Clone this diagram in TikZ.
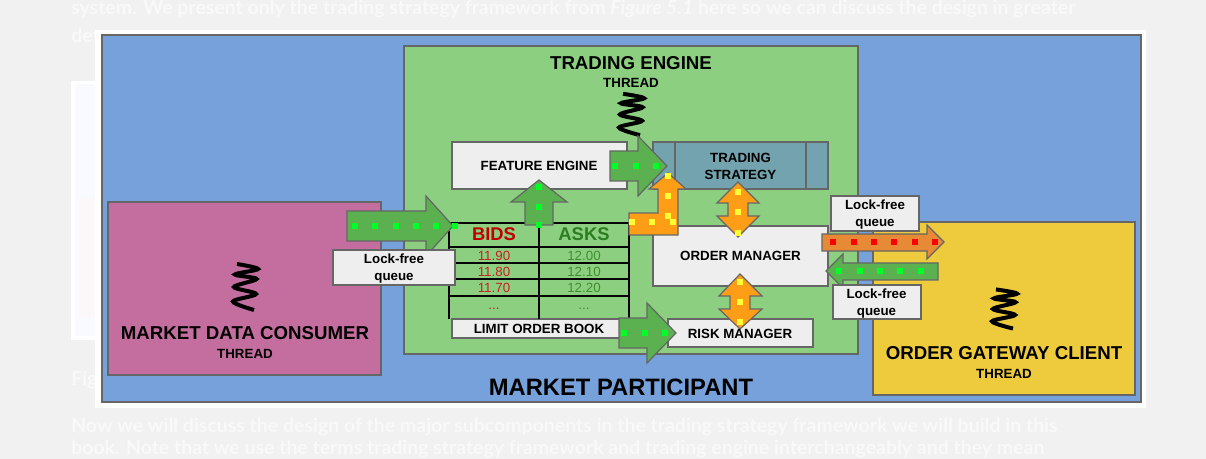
\documentclass[tikz,border=0pt]{standalone}
\usepackage{fontspec}
\setmainfont{Liberation Sans}
\newfontfamily\pagefont{Lato}
\definecolor{pagegrey}{RGB}{241,241,241}
\definecolor{pagetext}{RGB}{249,249,249}
\definecolor{paleblue}{RGB}{248,250,255}
\definecolor{palepink}{RGB}{252,248,250}
\definecolor{participantblue}{RGB}{118,161,219}
\definecolor{enginegreen}{RGB}{140,207,128}
\definecolor{consumerpink}{RGB}{196,110,159}
\definecolor{gatewayyellow}{RGB}{237,203,60}
\definecolor{boxgrey}{RGB}{238,238,238}
\definecolor{strategyteal}{RGB}{114,163,174}
\definecolor{linegrey}{RGB}{102,102,102}
\definecolor{arrowgreen}{RGB}{91,176,80}
\definecolor{arroworange}{RGB}{255,158,22}
\definecolor{queueorange}{RGB}{230,138,53}
\definecolor{limedot}{RGB}{0,255,40}
\definecolor{yellowdot}{RGB}{255,255,51}
\definecolor{bidred}{RGB}{192,0,0}
\definecolor{askgreen}{RGB}{46,125,34}
\definecolor{bidvalue}{RGB}{201,32,32}
\definecolor{askvalue}{RGB}{63,142,48}
\newcommand{\sqdot}[3]{\fill[#1] (#2-2.8,#3-2.8) rectangle ++(5.6,5.6);}
\tikzset{
  block/.style={draw=linegrey,line width=0.9pt},
  greenarrow/.style={block,fill=arrowgreen},
  orangearrow/.style={block,fill=arroworange},
  booklines/.style={line width=1.9pt,black},
  threadline/.style={line width=3pt,black,line cap=butt},
  label/.style={inner sep=0pt,align=center,font=\bfseries\fontsize{10}{12.75}\selectfont},
  titlelabel/.style={inner sep=0pt,font=\bfseries\fontsize{14}{16}\selectfont},
  pageline/.style={anchor=base west,inner sep=0pt,text=pagetext,font=\pagefont\bfseries\fontsize{14.6}{16}\selectfont},
  price/.style={inner sep=0pt,font=\fontsize{10}{12}\selectfont},
  threadspring/.pic={
    \draw[threadline] plot[smooth,tension=0.55] coordinates {(9,-23) (-12,-14.5) (11,-7) (-11,0) (11.5,8) (-10,12.5) (13,18) (-8,23)};
  }
}
\begin{document}
\begin{tikzpicture}[x=0.75pt,y=0.75pt,yscale=-1,xscale=1]
\useasboundingbox (0,0) rectangle (1206,459);
%page behind the figure
\fill[pagegrey] (0,0) rectangle (1206,459);
\fill[white] (71,81) rectangle (110,340);
\fill[paleblue] (75,84) rectangle (110,336);
\fill[palepink] (79,198) rectangle (110,317);
\node[pageline] (pageone) at (71,15) {system. We present only the trading strategy framework from \textit{Figure 5.1} here so we can discuss the design in greater};
\node[pageline] (pagetwo) at (71,43) {det};
\node[pageline] (pagefig) at (71,385) {Fig};
\node[pageline] (pagethree) at (71,432) {Now we will discuss the design of the major subcomponents in the trading strategy framework we will build in this};
\node[pageline] (pagefour) at (71,454.5) {book. Note that we use the terms trading strategy framework and trading engine interchangeably and they mean};
\fill[white] (95,30) rectangle (1146,408);

%Shape: Rectangle
\draw[block,fill=participantblue] (102,35) rectangle (1141,402);
\draw[block,fill=enginegreen] (404,46) rectangle (858,354);
\draw[block,fill=consumerpink] (108,202) rectangle (381,375);
\draw[block,fill=gatewayyellow] (873,222) rectangle (1135,395);
\draw[block,fill=boxgrey] (452,142) rectangle (627,189);
\draw[block,fill=strategyteal] (653,142) rectangle (828,189);
\draw[block] (675,142) -- (675,189);
\draw[block] (806,142) -- (806,189);
\draw[block,fill=boxgrey] (653,226) rectangle (828,286);
\draw[block,fill=boxgrey] (668,319) rectangle (813,347);
\draw[block,fill=boxgrey] (452,319) rectangle (620,338);

%Limit order book
\draw[booklines] (449,223) -- (629,223);
\draw[booklines] (449,223) -- (449,319);
\draw[booklines] (629,223) -- (629,319);
\draw[booklines] (539,223) -- (539,319);
\foreach \y in {247,263,279,296}
  \draw[booklines] (449,\y) -- (629,\y);

%Springs
\pic at (245,287) {threadspring};
\pic at (631,114.5) [yscale=0.9] {threadspring};
\pic at (1004,309) [yscale=0.85] {threadspring};

%Arrow from consumer
\draw[greenarrow] (347,211) -- (426,211) -- (426,196) -- (453,226) -- (426,256) -- (426,241) -- (347,241) -- cycle;
\foreach \x in {355,375,396,416,436,455} {\sqdot{limedot}{\x}{226}}
%Arrow from book to feature engine
\draw[greenarrow] (539,180) -- (567,202) -- (553,202) -- (553,225) -- (525,225) -- (525,202) -- (511,202) -- cycle;
\foreach \y in {187,207,225} {\sqdot{limedot}{539}{\y}}
%Arrow from feature engine
\draw[greenarrow] (610,151) -- (638,151) -- (638,136) -- (667,166) -- (638,196) -- (638,181) -- (610,181) -- cycle;
\foreach \x in {615,636,656} {\sqdot{limedot}{\x}{166}}
%Arrow from book to risk
\draw[greenarrow] (619,318) -- (647,318) -- (647,303) -- (676,333) -- (647,363) -- (647,348) -- (619,348) -- cycle;
\foreach \x in {624,645,665} {\sqdot{limedot}{\x}{333}}
%Bent arrow from order manager
\draw[orangearrow] (629,213) -- (658,213) -- (658,189) -- (649,189) -- (668,173) -- (686,189) -- (678,189) -- (678,235) -- (629,235) -- cycle;
\foreach \y in {176,196,216} {\sqdot{yellowdot}{668}{\y}}
\foreach \x in {632,652,673} {\sqdot{yellowdot}{\x}{222}}
%Double arrow strategy and order manager
\draw[orangearrow] (738,182) -- (759,203) -- (748,203) -- (748,216) -- (759,216) -- (738,237) -- (717,216) -- (728,216) -- (728,203) -- (717,203) -- cycle;
\foreach \y in {192,212,233} {\sqdot{yellowdot}{738}{\y}}
%Double arrow order manager and risk
\draw[orangearrow] (740,274) -- (762,296) -- (750,296) -- (750,309) -- (762,309) -- (740,329) -- (719,309) -- (730,309) -- (730,296) -- (719,296) -- cycle;
\foreach \y in {282,302,322} {\sqdot{yellowdot}{740}{\y}}
%Arrow to gateway
\draw[block,fill=queueorange] (822,234) -- (927,234) -- (927,225) -- (944,242) -- (927,259) -- (927,251) -- (822,251) -- cycle;
\foreach \x in {833,854,874,894,915,935} {\sqdot{red}{\x}{242}}
%Arrow from gateway
\draw[greenarrow] (938,263) -- (843,263) -- (843,254) -- (826,271) -- (843,288) -- (843,280) -- (938,280) -- cycle;
\foreach \x in {839,860,880,900,921} {\sqdot{limedot}{\x}{271}}

%Queue boxes
\draw[block,fill=boxgrey] (333,250) rectangle (455,285);
\draw[block,fill=boxgrey] (831,196) rectangle (919,231);
\draw[block,fill=boxgrey] (833,285) rectangle (921,319);

% Text Node
\node[titlelabel] (enginetitle) at (631,63) {TRADING ENGINE};
\node[label] (enginethread) at (631,82.5) {THREAD};
\node[inner sep=0pt,font=\bfseries\fontsize{17.8}{20}\selectfont] (participanttitle) at (621,387) {MARKET PARTICIPANT};
\node[inner sep=0pt,font=\bfseries\fontsize{14}{16}\selectfont] (consumertitle) at (245,333) {MARKET DATA CONSUMER};
\node[label] (consumerthread) at (245,353.5) {THREAD};
\node[inner sep=0pt,font=\bfseries\fontsize{14}{16}\selectfont] (gatewaytitle) at (1004,353) {ORDER GATEWAY CLIENT};
\node[label] (gatewaythread) at (1004,373.5) {THREAD};
\node[label] (featureengine) at (539,166) {FEATURE ENGINE};
\node[label] (tradingstrategy) at (740.5,166.5) {TRADING\\STRATEGY};
\node[label] (ordermanager) at (740.5,256) {ORDER MANAGER};
\node[label] (riskmanager) at (740,333.5) {RISK MANAGER};
\node[label] (limitorderbook) at (539,329) {LIMIT ORDER BOOK};
\node[label] (queueleft) at (394,268.5) {Lock-free\\queue};
\node[label] (queuetop) at (875,214.5) {Lock-free\\queue};
\node[label] (queuebottom) at (876.5,303.5) {Lock-free\\queue};
\node[inner sep=0pt,text=bidred,font=\bfseries\fontsize{13.8}{16}\selectfont] (bidshead) at (494,234.5) {BIDS};
\node[inner sep=0pt,text=askgreen,font=\bfseries\fontsize{13.8}{16}\selectfont] (askshead) at (584,234.5) {ASKS};
\node[price,text=bidvalue] (bidone) at (494,255.5) {11.90};
\node[price,text=bidvalue] (bidtwo) at (494,271.5) {11.80};
\node[price,text=bidvalue] (bidthree) at (494,288) {11.70};
\node[price,text=bidvalue] (bidmore) at (494,309) {...};
\node[price,text=askvalue] (askone) at (584,255.5) {12.00};
\node[price,text=askvalue] (asktwo) at (584,271.5) {12.10};
\node[price,text=askvalue] (askthree) at (584,288) {12.20};
\node[price,text=askvalue] (askmore) at (584,309) {...};

\end{tikzpicture}
\end{document}
